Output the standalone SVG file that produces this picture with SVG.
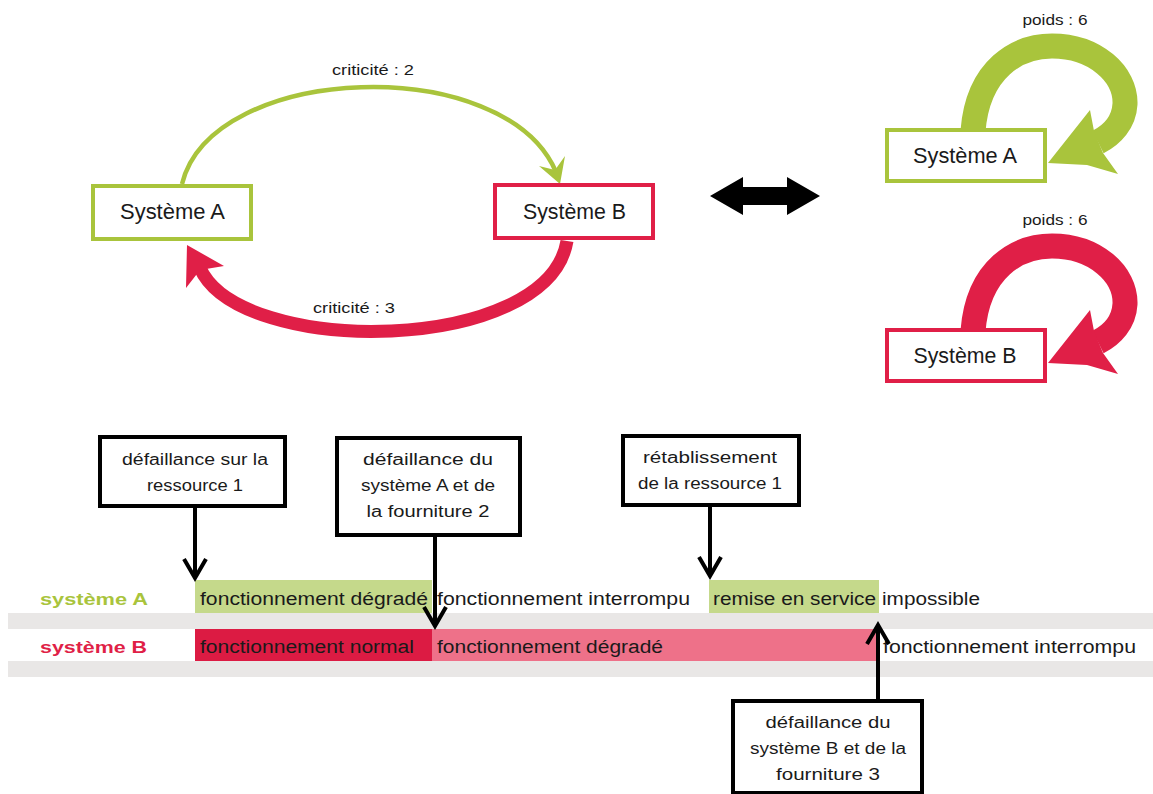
<svg xmlns="http://www.w3.org/2000/svg" width="1153" height="794" viewBox="0 0 1153 794">
<style>
.t{font-family:"Liberation Sans",Arial,sans-serif;fill:#1a1a1a;text-anchor:middle}
.lbl{font-size:15px}
.sys{font-size:22px}
.box{font-size:16px}
.row{font-family:"Liberation Sans",Arial,sans-serif;font-size:18px;fill:#1a1a1a}
.hdr{font-family:"Liberation Sans",Arial,sans-serif;font-size:17px;font-weight:bold}
.gbox{fill:#fff;stroke:#a9c43c;stroke-width:4}
.rbox{fill:#fff;stroke:#e01f47;stroke-width:4}
.kbox{fill:#fff;stroke:#000;stroke-width:4}
.kline{fill:none;stroke:#000;stroke-width:4;stroke-linejoin:miter}
</style>
<rect width="1153" height="794" fill="#fff"/>

<!-- timeline background -->
<g id="timeline">
<rect x="8" y="613" width="1145" height="16" fill="#e9e7e6"/>
<rect x="8" y="661" width="1145" height="16" fill="#e9e7e6"/>
<rect x="195" y="580" width="237" height="33" fill="#c5d98b"/>
<rect x="709" y="580" width="170" height="33" fill="#c5d98b"/>
<rect x="195" y="629" width="237" height="32" fill="#dc1b43"/>
<rect x="432" y="629" width="445" height="32" fill="#ee7189"/>
<text class="hdr" x="40" y="605" fill="#a9c43c" textLength="108" lengthAdjust="spacingAndGlyphs">système A</text>
<text class="hdr" x="40" y="653" fill="#e01f47" textLength="107" lengthAdjust="spacingAndGlyphs">système B</text>
<text class="row" x="200" y="605" textLength="228" lengthAdjust="spacingAndGlyphs">fonctionnement dégradé</text>
<text class="row" x="437" y="605" textLength="253" lengthAdjust="spacingAndGlyphs">fonctionnement interrompu</text>
<text class="row" x="713" y="605" textLength="163" lengthAdjust="spacingAndGlyphs">remise en service</text>
<text class="row" x="882" y="605" textLength="98" lengthAdjust="spacingAndGlyphs">impossible</text>
<text class="row" x="200" y="653" textLength="214" lengthAdjust="spacingAndGlyphs">fonctionnement normal</text>
<text class="row" x="437" y="653" textLength="226" lengthAdjust="spacingAndGlyphs">fonctionnement dégradé</text>
<text class="row" x="883" y="653" textLength="253" lengthAdjust="spacingAndGlyphs">fonctionnement interrompu</text>
</g>

<!-- connectors -->
<g id="connectors">
<path d="M182,184 C212,62 505,52 556,172" fill="none" stroke="#a9c43c" stroke-width="4.5"/>
<polygon points="560,184 539,166 555,170 565,156" fill="#a9c43c"/>
<path d="M567,241 C548,355 240,358 200,268" fill="none" stroke="#e01f47" stroke-width="13"/>
<polygon points="187,245 186,288 200,270 224,266" fill="#e01f47"/>
<polygon points="710,196 743,177 743,187 787,187 787,177 820,196 787,215 787,205 743,205 743,215" fill="#000"/>
<path d="M973,131 C978,68 1018,46 1052,46 C1095,46 1126,74 1125,104 C1124,122 1112,135 1098,142" fill="none" stroke="#a9c43c" stroke-width="25"/>
<polygon points="1048,163 1090,110 1094,131 1103,153 1118,174 1087,165" fill="#a9c43c"/>
<path d="M973,331 C978,268 1018,246 1052,246 C1095,246 1126,274 1125,304 C1124,322 1112,335 1098,342" fill="none" stroke="#e01f47" stroke-width="25"/>
<polygon points="1048,363 1090,310 1094,331 1103,353 1118,374 1087,365" fill="#e01f47"/>
<line class="kline" x1="195" y1="506" x2="195" y2="576"/>
<polyline class="kline" points="184,559 195,578 206,559"/>
<line class="kline" x1="435" y1="535" x2="435" y2="624"/>
<polyline class="kline" points="424,607 435,626 446,607"/>
<line class="kline" x1="710" y1="505" x2="710" y2="574"/>
<polyline class="kline" points="699,557 710,576 721,557"/>
<line class="kline" x1="878" y1="701" x2="878" y2="627"/>
<polyline class="kline" points="867,644 878,625 889,644"/>
</g>

<!-- labels on connectors -->
<g id="edge-labels">
<text class="t lbl" x="373" y="75" textLength="82" lengthAdjust="spacingAndGlyphs">criticité : 2</text>
<text class="t lbl" x="354" y="313" textLength="82" lengthAdjust="spacingAndGlyphs">criticité : 3</text>
<text class="t lbl" x="1055" y="25" textLength="65" lengthAdjust="spacingAndGlyphs">poids : 6</text>
<text class="t lbl" x="1055" y="225" textLength="65" lengthAdjust="spacingAndGlyphs">poids : 6</text>
</g>

<g id="node-sysA-left">
<rect class="gbox" x="93" y="186" width="158" height="53"/>
<text class="t sys" x="172.5" y="219" textLength="105" lengthAdjust="spacingAndGlyphs">Système A</text>
</g>
<g id="node-sysB-left">
<rect class="rbox" x="495" y="185" width="158" height="53"/>
<text class="t sys" x="574.5" y="219" textLength="103" lengthAdjust="spacingAndGlyphs">Système B</text>
</g>
<g id="node-sysA-right">
<rect class="gbox" x="887" y="130" width="158" height="51"/>
<text class="t sys" x="965" y="163" textLength="104" lengthAdjust="spacingAndGlyphs">Système A</text>
</g>
<g id="node-sysB-right">
<rect class="rbox" x="887" y="330" width="158" height="51"/>
<text class="t sys" x="965" y="363" textLength="103" lengthAdjust="spacingAndGlyphs">Système B</text>
</g>

<g id="event1">
<rect class="kbox" x="100" y="437" width="185" height="69"/>
<text class="t box" x="195" y="465" textLength="146" lengthAdjust="spacingAndGlyphs">défaillance sur la</text>
<text class="t box" x="195" y="491" textLength="96" lengthAdjust="spacingAndGlyphs">ressource 1</text>
</g>
<g id="event2">
<rect class="kbox" x="337" y="438" width="183" height="97"/>
<text class="t box" x="428" y="465" textLength="130" lengthAdjust="spacingAndGlyphs">défaillance du</text>
<text class="t box" x="428" y="491" textLength="134" lengthAdjust="spacingAndGlyphs">système A et de</text>
<text class="t box" x="428" y="517" textLength="123" lengthAdjust="spacingAndGlyphs">la fourniture 2</text>
</g>
<g id="event3">
<rect class="kbox" x="623" y="436" width="176" height="69"/>
<text class="t box" x="710" y="463" textLength="134" lengthAdjust="spacingAndGlyphs">rétablissement</text>
<text class="t box" x="710" y="489" textLength="144" lengthAdjust="spacingAndGlyphs">de la ressource 1</text>
</g>
<g id="event4">
<rect class="kbox" x="733" y="701" width="189" height="92"/>
<text class="t box" x="828" y="728" textLength="125" lengthAdjust="spacingAndGlyphs">défaillance du</text>
<text class="t box" x="828" y="754" textLength="156" lengthAdjust="spacingAndGlyphs">système B et de la</text>
<text class="t box" x="828" y="780" textLength="104" lengthAdjust="spacingAndGlyphs">fourniture 3</text>
</g>
</svg>
